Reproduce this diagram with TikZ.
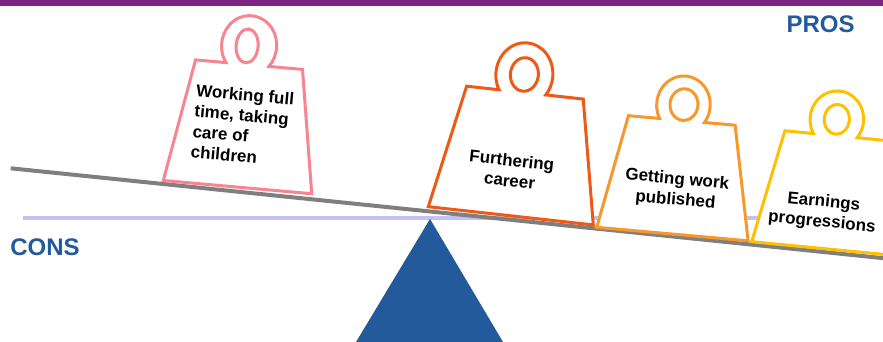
\documentclass[tikz,border=0pt]{standalone}
\usepackage{fontspec}
\setmainfont{Liberation Sans}
\definecolor{cpurple}{HTML}{7E2482}
\definecolor{cblue}{HTML}{235A9C}
\definecolor{cpink}{HTML}{F7848F}
\definecolor{cred}{HTML}{EE5A15}
\definecolor{corange}{HTML}{F6982C}
\definecolor{cyellow}{HTML}{FFC000}
\definecolor{cgray}{HTML}{7F7F7F}
\definecolor{clav}{HTML}{C3C3EF}
\tikzset{
  wline/.style={line width=3pt, fill=white},
  ring/.style={line width=3pt},
  wtext/.style={font=\bfseries\fontsize{17}{20.5}\selectfont, inner sep=0pt, transform shape, align=center},
  sidelabel/.style={font=\bfseries\fontsize{24}{28}\selectfont, text=cblue, inner sep=0pt},
}
% #1 colour, #2 bottom width, #3 top-left x, #4 top-right x, #5 height,
% #6 loop centre x, #7 neck half width, #8 loop x radius, #9 loop height above top edge
\newcommand\weightoutline[9]{%
  \pgfmathsetmacro\wgs{sqrt(1-(#7/#8)^2)}%
  \pgfmathsetmacro\wgry{#9/(1+\wgs)}%
  \pgfmathsetmacro\wgt{asin(\wgs)}%
  \pgfmathsetmacro\wgsa{180+\wgt}%
  \pgfmathsetmacro\wgea{-\wgt}%
  \draw[wline, draw=#1] (0,0) -- (#3,#5) -- ({#6-#7},#5)
    arc[start angle=\wgsa, end angle=\wgea, x radius=#8pt, y radius=\wgry pt]
    -- (#4,#5) -- (#2,0) -- cycle;%
}
\begin{document}
\begin{tikzpicture}[x=1pt,y=1pt]
\useasboundingbox (0,0) rectangle (883,342);
\begin{scope}
\clip (0,0) rectangle (883,342);
\fill[cpurple] (0,336) rectangle (883,342);
\coordinate (lavL) at (23,124);
\coordinate (lavR) at (883,124);
\draw[clav, line width=4pt] (lavL) -- (lavR);
\coordinate (apex) at (430,123);
\coordinate (baseL) at (356,0);
\coordinate (baseR) at (503,0);
\fill[cblue] (apex) -- (baseR) -- (baseL) -- cycle;
\coordinate (beamL) at (10.7,173.7);
\coordinate (beamR) at (900,82.1);
\draw[cgray, line width=4pt] (beamL) -- (beamR);

% cons weight
\begin{scope}[shift={(163.3,161.5)}, rotate=-5.1]
  \weightoutline{cpink}{149}{21.4}{128.8}{123}{73.5}{21.5}{27.6}{49}
  \draw[ring, cpink] (71.5,141.5) ellipse[x radius=11pt, y radius=17pt];
  \node[wtext, align=left] (wa) at (74,62) {Working full\\time, taking\\care of\\children};
\end{scope}

% pros weights
\begin{scope}[shift={(428.3,135.3)}, rotate=-6.3]
  \weightoutline{cred}{166}{24.9}{142.2}{124}{81}{23.5}{28.5}{49.7}
  \draw[ring, cred] (81,142) ellipse[x radius=14pt, y radius=16.8pt];
  \node[wtext] (wb) at (78,45) {Furthering\\career};
\end{scope}

\begin{scope}[shift={(596.7,114.7)}, rotate=-5.1]
  \weightoutline{corange}{152}{21.7}{128.8}{114}{75.5}{22.5}{26.8}{44.6}
  \draw[ring, corange] (76,130) ellipse[x radius=14pt, y radius=15.8pt];
  \node[wtext] (wc) at (76,44) {Getting work\\published};
\end{scope}

\begin{scope}[shift={(751.7,100.3)}, rotate=-5.5]
  \weightoutline{cyellow}{152}{22.4}{128.8}{113.6}{73}{22}{26.8}{44.8}
  \draw[ring, cyellow] (73,130) ellipse[x radius=12.5pt, y radius=15pt];
  \node[wtext] (wd) at (68,36) {Earnings\\progressions};
\end{scope}

\node[sidelabel] (cons) at (45,95) {CONS};
\node[sidelabel] (pros) at (820.5,318) {PROS};
\end{scope}
\end{tikzpicture}
\end{document}
